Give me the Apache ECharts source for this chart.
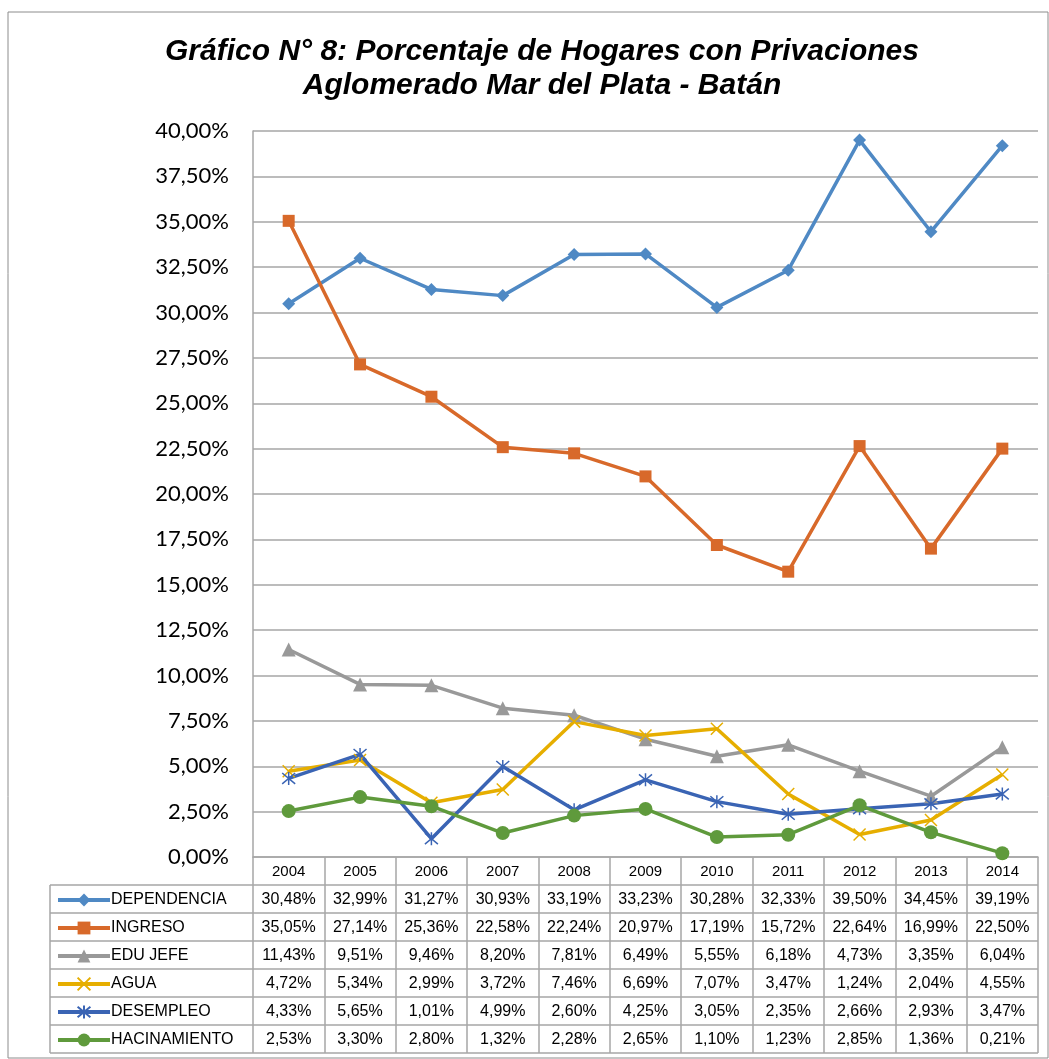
<!DOCTYPE html>
<html>
<head>
<meta charset="utf-8">
<script src="https://cdn.jsdelivr.net/npm/echarts@6/dist/echarts.min.js"></script>
<style>
  html, body { margin: 0; padding: 0; background: #fff; }
  #main { width: 1049px; height: 1059px; }
</style>
</head>
<body>
<div id="main"></div>
<script>
const years = ['2004', '2005', '2006', '2007', '2008', '2009', '2010', '2011', '2012', '2013', '2014']
const dependencia = [30.48, 32.99, 31.27, 30.93, 33.19, 33.23, 30.28, 32.33, 39.50, 34.45, 39.19]
const ingreso = [35.05, 27.14, 25.36, 22.58, 22.24, 20.97, 17.19, 15.72, 22.64, 16.99, 22.50]
const eduJefe = [11.43, 9.51, 9.46, 8.20, 7.81, 6.49, 5.55, 6.18, 4.73, 3.35, 6.04]
const agua = [4.72, 5.34, 2.99, 3.72, 7.46, 6.69, 7.07, 3.47, 1.24, 2.04, 4.55]
const desempleo = [4.33, 5.65, 1.01, 4.99, 2.60, 4.25, 3.05, 2.35, 2.66, 2.93, 3.47]
const hacinamiento = [2.53, 3.30, 2.80, 1.32, 2.28, 2.65, 1.10, 1.23, 2.85, 1.36, 0.21]

const names = ['DEPENDENCIA', 'INGRESO', 'EDU JEFE', 'AGUA', 'DESEMPLEO', 'HACINAMIENTO']
const rows = [dependencia, ingreso, eduJefe, agua, desempleo, hacinamiento]
const colors = ['#4F89C4', '#D8692A', '#999999', '#E6AE00', '#3A64B4', '#5F9A3C']
const symbols = [
  'diamond', 'rect', 'triangle',
  'path://M0,0L10,10M10,0L0,10',
  'path://M0,0L10,10M10,0L0,10M5,-1L5,11',
  'circle'
]
const symbolSizes = [13, 12, 14, 12, 13, 14]

const plotLeft = 253, plotRight = 1038, plotTop = 131, plotBottom = 857
const rowH = 28
const tableLeft = 50
const gridColor = '#a6a6a6'

const fmt = v => v.toFixed(2).replace('.', ',') + '%'

const main = document.getElementById('main')
const myChart = echarts.init(main)

// ejes de la tabla: una fila por serie, debajo del eje principal
const tableAxes = rows.map((r, k) => ({
  type: 'category',
  gridIndex: 0,
  position: 'bottom',
  offset: rowH * (k + 1),
  data: years,
  axisLine: { show: false },
  axisTick: { show: false },
  axisLabel: {
    interval: 0,
    margin: 7,
    fontFamily: 'Liberation Sans',
    fontSize: 16,
    color: '#000',
    formatter: (v, i) => fmt(r[i])
  }
}))

// una leyenda por fila de la tabla
const legends = names.map((name, k) => ({
  orient: 'horizontal',
  left: 56,
  top: plotBottom + rowH * (k + 1) + 7,
  padding: 0,
  itemWidth: 52,
  itemHeight: 16,
  lineStyle: { width: 4 },
  textStyle: { fontFamily: 'Liberation Sans', fontSize: 16, color: '#000', padding: [0, 0, 0, -4] },
  data: [name]
}))

// lineas horizontales de la tabla
const tableLines = []
for (let k = 0; k <= rows.length; k++) {
  const y = plotBottom + rowH * (k + 1)
  tableLines.push({
    type: 'line',
    shape: { x1: tableLeft, y1: y, x2: plotRight, y2: y },
    style: { stroke: gridColor, lineWidth: 1.5 }
  })
}
tableLines.push({
  type: 'line',
  shape: { x1: tableLeft, y1: plotBottom + rowH, x2: tableLeft, y2: plotBottom + rowH * 7 },
  style: { stroke: gridColor, lineWidth: 1.5 }
})
tableLines.push({
  type: 'rect',
  shape: { x: 8, y: 12, width: 1040, height: 1046 },
  style: { fill: 'none', stroke: '#8c8c8c', lineWidth: 1 },
  z: -1
})

myChart.setOption({
  animation: false,
  backgroundColor: '#fff',
  title: {
    text: 'Gráfico N° 8: Porcentaje de Hogares con Privaciones\nAglomerado Mar del Plata - Batán',
    left: 537,
    top: 30,
    textAlign: 'center',
    textStyle: {
      fontFamily: 'Liberation Sans',
      fontSize: 30,
      fontWeight: 'bold',
      fontStyle: 'italic',
      lineHeight: 34,
      color: '#000'
    }
  },
  legend: legends,
  grid: {
    left: plotLeft,
    right: 1049 - plotRight,
    top: plotTop,
    bottom: 1059 - plotBottom,
    containLabel: false
  },
  xAxis: [{
    type: 'category',
    data: years,
    boundaryGap: true,
    axisLine: { lineStyle: { color: gridColor, width: 1.5 } },
    axisTick: {
      show: true,
      interval: 0,
      length: rowH * 7,
      lineStyle: { color: gridColor, width: 1.5 }
    },
    axisLabel: {
      interval: 0,
      margin: 7,
      fontFamily: 'Liberation Sans',
      fontSize: 15,
      color: '#000'
    }
  }].concat(tableAxes),
  yAxis: {
    type: 'value',
    min: 0,
    max: 40,
    interval: 2.5,
    axisLine: { show: true, lineStyle: { color: gridColor, width: 1.5 } },
    axisTick: { show: false },
    splitLine: { lineStyle: { color: gridColor, width: 1.5 } },
    axisLabel: {
      margin: 24,
      fontFamily: 'Lato',
      fontSize: 22,
      color: '#000',
      formatter: v => fmt(v)
    }
  },
  graphic: tableLines,
  series: rows.map((r, k) => ({
    name: names[k],
    type: 'line',
    data: r,
    symbol: symbols[k],
    symbolSize: symbolSizes[k],
    showAllSymbol: true,
    lineStyle: { color: colors[k], width: 3.5 },
    itemStyle: {
      color: colors[k],
      borderColor: colors[k],
      borderWidth: k === 3 || k === 4 ? 1.5 : 0
    }
  }))
})
</script>
</body>
</html>
